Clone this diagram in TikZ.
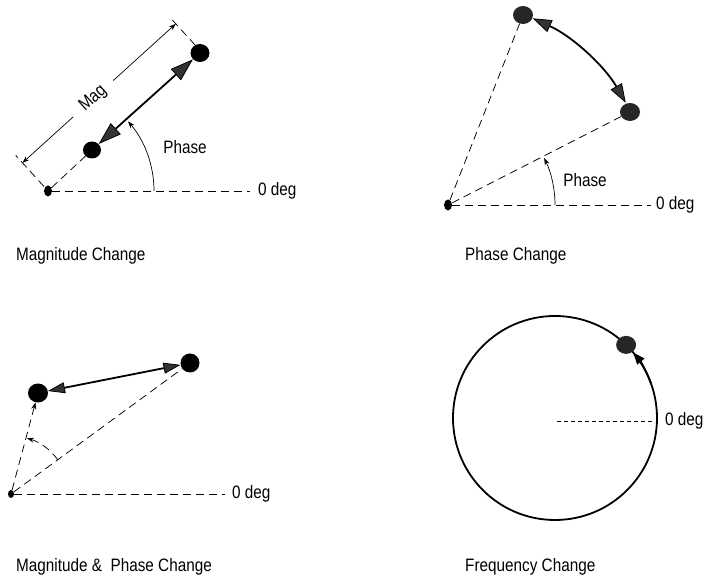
\documentclass[tikz,border=0pt]{standalone}
\usepackage{fontspec}
\setmainfont{Liberation Sans}[FakeStretch=0.85]
\usetikzlibrary{arrows.meta,shapes.geometric,calc}
\begin{document}
\begin{tikzpicture}[x=1pt,y=1pt,
  every node/.style={font=\fontsize{18}{21}\selectfont},
  lbl/.style={anchor=west,inner sep=0pt},
  dot/.style={ellipse,fill=black,inner sep=0pt,minimum width=19pt,minimum height=18pt},
  gdot/.style={dot,fill=black!85},
  odot/.style={ellipse,fill=black,inner sep=0pt,minimum width=8pt,minimum height=11pt},
  dashline/.style={line width=0.75pt,dash pattern=on 8pt off 5pt},
  shortdash/.style={line width=0.75pt,dash pattern=on 4pt off 3pt},
  thinarr/.style={line width=0.7pt,-{Stealth[length=7pt,width=5pt]}},
  bigarr/.style={line width=1.8pt,{Triangle[length=23pt,width=15pt,fill=black!80,line width=0.8pt]}-{Triangle[length=23pt,width=15pt,fill=black!80,line width=0.8pt]}},
  midarr/.style={line width=1.8pt,{Triangle[length=19pt,width=13pt,fill=black!80,line width=0.8pt]}-{Triangle[length=19pt,width=13pt,fill=black!80,line width=0.8pt]}},
  smallarr/.style={line width=1.8pt,{Triangle[length=17pt,width=11pt,fill=black!80,line width=0.8pt]}-{Triangle[length=17pt,width=11pt,fill=black!80,line width=0.8pt]}}
]
\useasboundingbox (0,0) rectangle (705,580);

% ---------- Panel 1: Magnitude Change ----------
\node[odot] (o1) at (48,389) {};
\node[dot,minimum width=18pt,minimum height=17pt] (a1) at (92,430) {};
\node[dot] (b1) at (200,527) {};
\coordinate (h1) at (250,389);
\node[lbl] (z1) at (258,389) {0 deg};
\draw[dashline] (o1) -- (h1);
\draw[dashline] (o1) -- (a1);
\draw[bigarr] (a1) -- (b1);
% dimension
\draw[dashline] ($(o1.center)+(132.2:6)$) coordinate (e1a) -- ($(o1.center)+(132.2:48)$) coordinate (e1b);
\draw[dashline] ($(o1.center)+(42.2:207)+(132.2:9)$) coordinate (e2a) -- ($(o1.center)+(42.2:207)+(132.2:48)$) coordinate (e2b);
\coordinate (m0) at ($(o1.center)+(132.2:38)$);
\coordinate (m1) at ($(o1.center)+(42.2:207)+(132.2:38)$);
\node[rotate=42.2,inner xsep=12pt] (mag) at ($(o1.center)+(42.2:95.5)+(132.2:38)$) {Mag};
\draw[thinarr] (mag) -- (m0);
\draw[thinarr] (mag) -- (m1);
% phase
\draw[thinarr] ($(o1.center)+(106,0)$) arc[start angle=0,end angle=41,radius=106];
\node (p1) at (185,433) {Phase};
\node[lbl] (t1) at (16,324) {Magnitude Change};

% ---------- Panel 2: Phase Change ----------
\node[odot] (o2) at (448,375) {};
\node[gdot,minimum width=20pt] (a2) at (523,565) {};
\node[gdot,minimum width=20pt] (b2) at (630,468) {};
\coordinate (h2) at (651,375);
\node[lbl] (z2) at (656,375) {0 deg};
\draw[dashline] (o2) -- (h2);
\draw[dashline] (o2) -- (a2);
\draw[dashline] (o2) -- (b2);
\draw[midarr] ($(o2.center)+(65.6:205)$) arc[start angle=65.6,end angle=29.9,radius=205];
\draw[thinarr] ($(o2.center)+(107,0)$) arc[start angle=0,end angle=26,radius=107];
\node (p2) at (585,400) {Phase};
\node[lbl] (t2) at (465,324) {Phase Change};

% ---------- Panel 3: Magnitude & Phase Change ----------
\node[odot,minimum width=6pt,minimum height=8pt] (o3) at (11,86) {};
\node[dot,minimum width=20pt,minimum height=19pt] (a3) at (38,187) {};
\node[dot,minimum width=19pt,minimum height=19pt] (b3) at (190,217) {};
\coordinate (h3) at (225,86);
\node[lbl] (z3) at (232,86) {0 deg};
\draw[dashline] (o3) -- (h3);
\draw[dashline,-{Stealth[length=7pt,width=5pt]}] (o3) -- (a3);
\draw[dashline] (o3) -- (b3);
\draw[smallarr] (a3) -- (b3);
\draw[dashline,-{Stealth[length=7pt,width=5pt]}] ($(o3.center)+(36.2:58)$) arc[start angle=36.2,end angle=74,radius=58];
\node[lbl] (t3) at (16,13) {Magnitude \&\ \ Phase Change};

% ---------- Panel 4: Frequency Change ----------
\coordinate (c4) at (555,162);
\draw[line width=1.8pt] (c4) circle[radius=102];
\node[gdot,minimum width=20pt] (d4) at ($(c4)+(45.8:102)$) {};
\coordinate (e4a) at (557,159);
\coordinate (e4b) at (654,159);
\draw[shortdash] (e4a) -- (e4b);
\node[lbl] (z4) at (665,159) {0 deg};
\draw[line width=1.8pt,-{Triangle[length=12pt,width=9pt]}] ($(c4)+(20:102)$) arc[start angle=20,end angle=40,radius=102];
\node[lbl] (t4) at (465,13) {Frequency Change};
\end{tikzpicture}
\end{document}
